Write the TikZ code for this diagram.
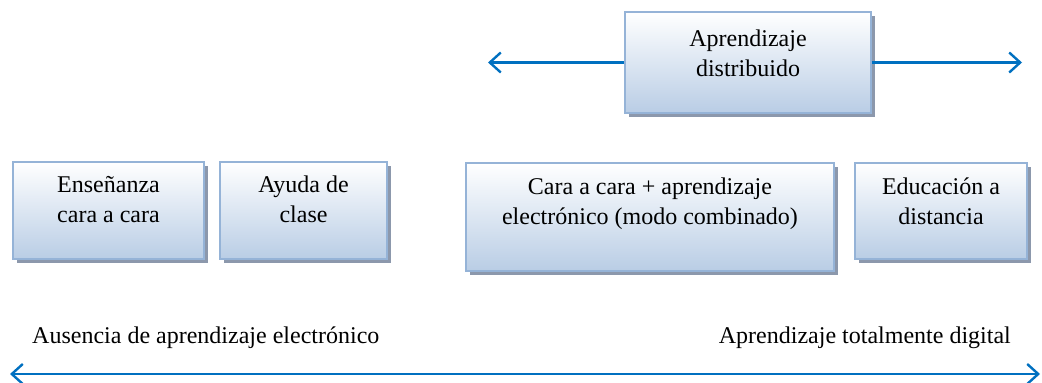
\documentclass[tikz,border=0pt]{standalone}
\usepackage{fontspec}
\setmainfont{Liberation Serif}
\usetikzlibrary{arrows.meta,shadows}
\definecolor{boxline}{RGB}{149,179,215}
\definecolor{boxbot}{RGB}{185,205,229}
\definecolor{shadowc}{RGB}{140,152,172}
\definecolor{arrowc}{RGB}{0,112,192}
\tikzset{
  x=1pt, y=-1pt,
  box/.style={rectangle, draw=boxline, line width=1.6pt, top color=white, bottom color=boxbot,
    drop shadow={shadow xshift=4pt, shadow yshift=-4pt, fill=shadowc, opacity=1}, inner sep=0pt},
  lbl/.style={align=center, inner sep=0pt, anchor=north, font=\fontsize{24}{30}\selectfont},
  plain/.style={inner sep=0pt, font=\fontsize{24}{30}\selectfont},
  arr/.style={draw=arrowc, line width=2.4pt, >={Straight Barb[length=11pt,width=20pt]}}
}
\newcommand\fstrut{\rule{0pt}{18pt}}
\begin{document}
\begin{tikzpicture}
\useasboundingbox (0,0) rectangle (1042,383);
% top box
\node[box, minimum width=246pt, minimum height=101pt] (tb) at (748,62.5) {};
\node[lbl] (tt) at (748,28) {\fstrut Aprendizaje\\distribuido};
\coordinate (tl) at (488,62.5);
\coordinate (tr) at (1022,62.5);
\draw[arr,->] (tb.west) -- (tl);
\draw[arr,->] (tb.east) -- (tr);
% middle boxes
\node[box, minimum width=191pt, minimum height=97pt] (b1) at (108.5,210.5) {};
\node[lbl] (t1) at (108.5,174) {\fstrut Enseñanza\\cara a cara};
\node[box, minimum width=167pt, minimum height=97pt] (b2) at (303.5,210.5) {};
\node[lbl] (t2) at (303.5,174) {\fstrut Ayuda de\\clase};
\node[box, minimum width=368pt, minimum height=108pt] (b3) at (650,217) {};
\node[lbl] (t3) at (650,176) {\fstrut Cara a cara + aprendizaje\\electrónico (modo combinado)};
\node[box, minimum width=172pt, minimum height=96pt] (b4) at (941,211) {};
\node[lbl] (t4) at (941,176) {\fstrut Educación a\\distancia};
% bottom labels
\node[plain, anchor=base west] (la) at (32,343) {Ausencia de aprendizaje electrónico};
\node[plain, anchor=base east] (lb) at (1011,343) {Aprendizaje totalmente digital};
\coordinate (bl) at (10,374);
\coordinate (br) at (1040,374);
\draw[arr,<->] (bl) -- (br);
\end{tikzpicture}
\end{document}
